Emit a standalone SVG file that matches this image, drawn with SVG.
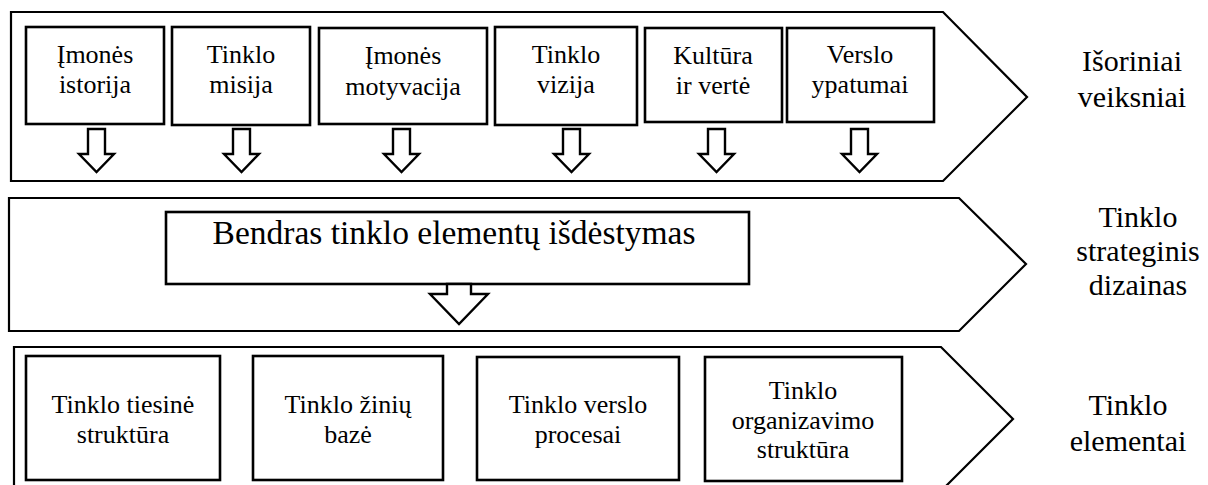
<svg xmlns="http://www.w3.org/2000/svg" width="1208" height="485" viewBox="0 0 1208 485">
<style>
.band{fill:#fff;stroke:#000;stroke-width:2.2;stroke-linejoin:miter}
.box{fill:#fff;stroke:#000;stroke-width:2.6}
.arr{fill:#fff;stroke:#000;stroke-width:2.4;stroke-linejoin:miter}
.t26{font-size:26px}
.t34{font-size:33.5px}
.t30{font-size:30px}
</style>
<rect width="1208" height="485" fill="#fff"/>
<g id="band-top"><polygon class="band" points="11,12 943,12 1027,97 943,181 11,181"/></g>
<g id="band-mid"><polygon class="band" points="9,198 959,198 1026,264 959,331 9,331"/></g>
<g id="band-bot"><polygon class="band" points="14,347 941,347 1013,419 941,491 14,491"/></g>

<g font-family="Liberation Serif" text-anchor="middle" fill="#000">
<g id="n1"><rect class="box" x="26" y="27" width="138" height="97"/><text class="t26" x="95" y="63">Įmonės</text><text class="t26" x="95" y="93">istorija</text></g>
<g id="n2"><rect class="box" x="172" y="27" width="138" height="98"/><text class="t26" x="241" y="63">Tinklo</text><text class="t26" x="241" y="93">misija</text></g>
<g id="n3"><rect class="box" x="319" y="28" width="168" height="96"/><text class="t26" x="403" y="64">Įmonės</text><text class="t26" x="403" y="95">motyvacija</text></g>
<g id="n4"><rect class="box" x="495" y="27" width="142" height="98"/><text class="t26" x="566" y="63">Tinklo</text><text class="t26" x="566" y="93">vizija</text></g>
<g id="n5"><rect class="box" x="645" y="28" width="137" height="94"/><text class="t26" x="713" y="64">Kultūra</text><text class="t26" x="713" y="94">ir vertė</text></g>
<g id="n6"><rect class="box" x="787" y="28" width="147" height="94"/><text class="t26" x="860" y="63">Verslo</text><text class="t26" x="860" y="93">ypatumai</text></g>

<g id="lbl-top"><text class="t30" x="1132" y="71">Išoriniai</text><text class="t30" x="1132" y="107">veiksniai</text></g>

<g id="n7"><rect class="box" x="166" y="212" width="583" height="72"/><text class="t34" x="454" y="244">Bendras tinklo elementų išdėstymas</text></g>

<g id="lbl-mid"><text class="t30" x="1138" y="227">Tinklo</text><text class="t30" x="1138" y="261">strateginis</text><text class="t30" x="1138" y="295">dizainas</text></g>

<g id="n8"><rect class="box" x="26" y="356" width="194" height="124"/><text class="t26" x="123" y="413">Tinklo tiesinė</text><text class="t26" x="123" y="443">struktūra</text></g>
<g id="n9"><rect class="box" x="253" y="356" width="190" height="124"/><text class="t26" x="348" y="413">Tinklo žinių</text><text class="t26" x="348" y="443">bazė</text></g>
<g id="n10"><rect class="box" x="477" y="357" width="202" height="123"/><text class="t26" x="578" y="413">Tinklo verslo</text><text class="t26" x="578" y="443">procesai</text></g>
<g id="n11"><rect class="box" x="705" y="357" width="197" height="124"/><text class="t26" x="803" y="399">Tinklo</text><text class="t26" x="803" y="429">organizavimo</text><text class="t26" x="803" y="458">struktūra</text></g>

<g id="lbl-bot"><text class="t30" x="1128" y="415">Tinklo</text><text class="t30" x="1128" y="451">elementai</text></g>
</g>

<g id="connectors">
<polygon class="arr" points="88,129 105,129 105,154 114,154 96.5,172 79,154 88,154"/>
<polygon class="arr" points="233,129 250,129 250,154 259,154 241.5,172 224,154 233,154"/>
<polygon class="arr" points="393,129 410,129 410,154 419,154 401.5,172 384,154 393,154"/>
<polygon class="arr" points="563,129 580,129 580,154 589,154 571.5,172 554,154 563,154"/>
<polygon class="arr" points="708,129 725,129 725,154 734,154 716.5,172 699,154 708,154"/>
<polygon class="arr" points="851,129 868,129 868,154 877,154 859.5,172 842,154 851,154"/>
<polygon class="arr" points="447,284 471,284 471,294 488,294 459,324 430,294 447,294"/>
</g>
</svg>
